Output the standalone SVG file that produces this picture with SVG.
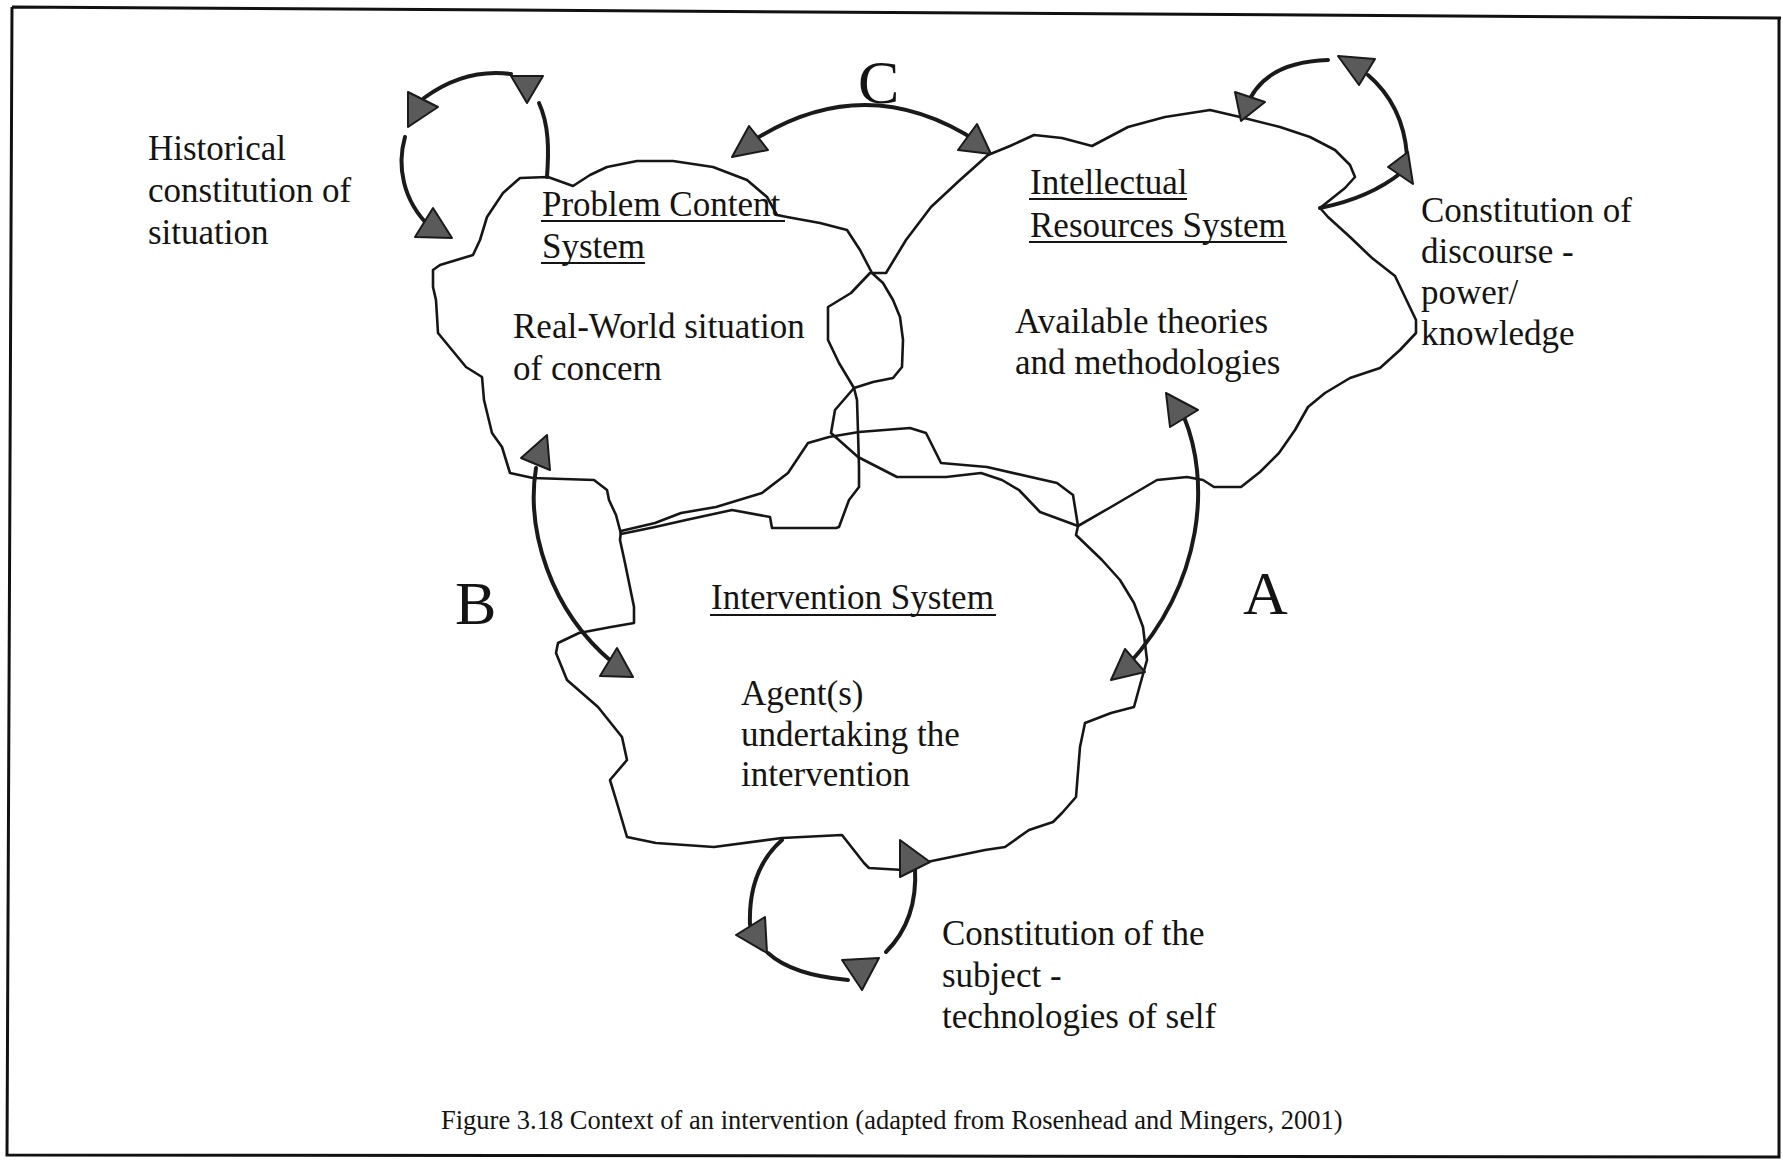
<svg xmlns="http://www.w3.org/2000/svg" width="1783" height="1164" viewBox="0 0 1783 1164">
  <style>
    .frame{fill:none;stroke:#111;stroke-width:3}
    .cloud{fill:none;stroke:#161616;stroke-width:2.6;stroke-linejoin:round;stroke-linecap:round}
    .arc{fill:none;stroke:#1a1a1a;stroke-width:4;stroke-linecap:round}
    .head{fill:#5a5a5a;stroke:#1a1a1a;stroke-width:2;stroke-linejoin:round}
    .t{font-family:'Liberation Serif','Times New Roman',serif;font-size:35px;fill:#141414}
    .big{font-size:62px}
    .cap{font-size:26.5px}
    .ul{stroke:#141414;stroke-width:2}
  </style>
  <rect width="1783" height="1164" fill="#ffffff"/>

  <!-- page frame -->
  <path class="frame" d="M12,7 L1781,18 M1779,18 L1779,1157 L7,1155 L12,7"/>

  <!-- Problem Content System -->
  <g id="problem-content-system">
    <path class="cloud" d="M520,178 L548,177 L573,186 L590,175 L607,167 L637,161 L673,161 L713,167 L747,180 L767,197 L777,215 L787,217 L820,223 L847,230 L860,250 L872,273 L883,283 L893,300 L900,317 L903,340 L902,367 L893,378 L873,382 L854,388 L857,400 L858,432 L859,467 L859,487 L849,500 L839,527 L836,528 L772,528 L770,517 L732,510 L686,520 L655,527 L621,534 L616,515 L609,500 L607,490 L594,480 L533,478 L510,473 L502,447 L492,433 L484,400 L482,377 L466,367 L438,333 L436,300 L433,287 L433,270 L440,265 L473,255 L480,240 L487,217 L503,193 Z"/>
    <text class="t" x="542" y="216">Problem Content</text>
    <line class="ul" x1="541" y1="221" x2="785" y2="221"/>
    <text class="t" x="542" y="258">System</text>
    <line class="ul" x1="541" y1="263" x2="645" y2="263"/>
    <text class="t" x="513" y="338">Real-World situation</text>
    <text class="t" x="513" y="380">of concern</text>
  </g>

  <!-- Intellectual Resources System -->
  <g id="intellectual-resources-system">
    <path class="cloud" d="M988,155 L1010,146 L1034,135 L1062,138 L1092,146 L1128,127 L1165,117 L1210,110 L1240,117 L1280,127 L1310,137 L1335,150 L1350,165 L1355,177 L1345,188 L1330,200 L1320,208 L1328,217 L1350,237 L1372,258 L1395,276 L1405,297 L1416,320 L1416,333 L1400,350 L1380,368 L1350,378 L1325,393 L1308,407 L1295,430 L1279,453 L1260,472 L1241,487 L1214,487 L1203,480 L1187,477 L1157,480 L1111,507 L1078,526 L1040,512 L1019,490 L1002,480 L981,473 L946,477 L897,477 L858,457 L831,433 L835,410 L854,388 L839,363 L828,340 L828,307 L851,293 L870,273 L886,273 L906,240 L931,207 L960,180 Z"/>
    <text class="t" x="1030" y="194">Intellectual</text>
    <line class="ul" x1="1029" y1="199" x2="1187" y2="199"/>
    <text class="t" x="1030" y="237">Resources System</text>
    <line class="ul" x1="1029" y1="242" x2="1287" y2="242"/>
    <text class="t" x="1015" y="333">Available theories</text>
    <text class="t" x="1015" y="374">and methodologies</text>
  </g>

  <!-- Intervention System -->
  <g id="intervention-system">
    <path class="cloud" d="M621,531 L655,523 L681,513 L716,507 L762,493 L788,473 L808,443 L829,437 L859,432 L910,428 L926,433 L941,463 L987,467 L1057,483 L1073,495 L1078,526 L1076,535 L1102,560 L1120,580 L1134,603 L1143,627 L1147,660 L1140,685 L1134,707 L1111,713 L1085,723 L1080,747 L1076,797 L1062,813 L1053,822 L1029,830 L1005,847 L985,850 L927,862 L903,870 L869,868 L864,863 L842,835 L782,838 L714,847 L656,843 L627,837 L617,803 L610,780 L627,760 L622,737 L598,707 L567,680 L556,653 L558,643 L579,633 L611,627 L634,623 L634,607 L625,563 L620,540 Z"/>
    <text class="t" x="711" y="609">Intervention System</text>
    <line class="ul" x1="710" y1="615" x2="996" y2="615"/>
    <text class="t" x="741" y="705">Agent(s)</text>
    <text class="t" x="741" y="746">undertaking the</text>
    <text class="t" x="741" y="786">intervention</text>
  </g>

  <!-- arrows between and around the systems -->
  <g id="connectors">
    <!-- historical constitution loop -->
    <path class="arc" d="M547,177 C549,150 549,125 539,103"/>
    <path class="arc" d="M511,74 Q465,68 424,98"/>
    <path class="arc" d="M405,137 C397,165 402,200 430,227"/>
    <polygon class="head" points="408,92 438,107 408,127"/>
    <polygon class="head" points="415,237 433,208 452,238"/>
    <polygon class="head" points="511,76 543,76 527,103"/>

    <!-- C: problem content <-> intellectual resources -->
    <path class="arc" d="M751,142 Q865,68 978,142"/>
    <polygon class="head" points="749,126 768,150 732,157"/>
    <polygon class="head" points="977,124 991,154 958,150"/>

    <!-- discourse / power-knowledge loop -->
    <path class="arc" d="M1328,60 Q1262,62 1246,108"/>
    <path class="arc" d="M1368,75 Q1403,105 1407,155"/>
    <path class="arc" d="M1402,172 Q1370,198 1320,208"/>
    <polygon class="head" points="1235,92 1265,102 1241,121"/>
    <polygon class="head" points="1338,56 1375,59 1359,85"/>
    <polygon class="head" points="1388,167 1408,152 1413,184"/>

    <!-- B: problem content <-> intervention -->
    <path class="arc" d="M536,468 C526,530 550,610 612,662"/>
    <polygon class="head" points="521,458 547,435 550,470"/>
    <polygon class="head" points="600,676 617,648 633,677"/>

    <!-- A: intellectual resources <-> intervention -->
    <path class="arc" d="M1184,417 C1210,480 1205,580 1128,665"/>
    <polygon class="head" points="1166,393 1198,410 1170,427"/>
    <polygon class="head" points="1111,680 1125,649 1145,672"/>

    <!-- technologies of self loop -->
    <path class="arc" d="M782,840 Q748,870 750,925"/>
    <path class="arc" d="M768,953 Q792,975 848,980"/>
    <path class="arc" d="M886,952 Q918,920 915,868"/>
    <polygon class="head" points="736,935 765,917 767,953"/>
    <polygon class="head" points="842,960 879,958 862,990"/>
    <polygon class="head" points="900,840 930,862 900,877"/>
  </g>

  <!-- outer labels -->
  <g id="labels">
    <text class="t big" x="858" y="103">C</text>
    <text class="t big" x="455" y="624">B</text>
    <text class="t big" x="1243" y="614">A</text>

    <text class="t" x="148" y="160">Historical</text>
    <text class="t" x="148" y="202">constitution of</text>
    <text class="t" x="148" y="244">situation</text>

    <text class="t" x="1421" y="222">Constitution of</text>
    <text class="t" x="1421" y="263">discourse -</text>
    <text class="t" x="1421" y="304">power/</text>
    <text class="t" x="1421" y="345">knowledge</text>

    <text class="t" x="942" y="945">Constitution of the</text>
    <text class="t" x="942" y="987">subject -</text>
    <text class="t" x="942" y="1028">technologies of self</text>
  </g>

  <g id="caption">
    <text class="t cap" x="441" y="1129">Figure 3.18 Context of an intervention (adapted from Rosenhead and Mingers, 2001)</text>
  </g>
</svg>
